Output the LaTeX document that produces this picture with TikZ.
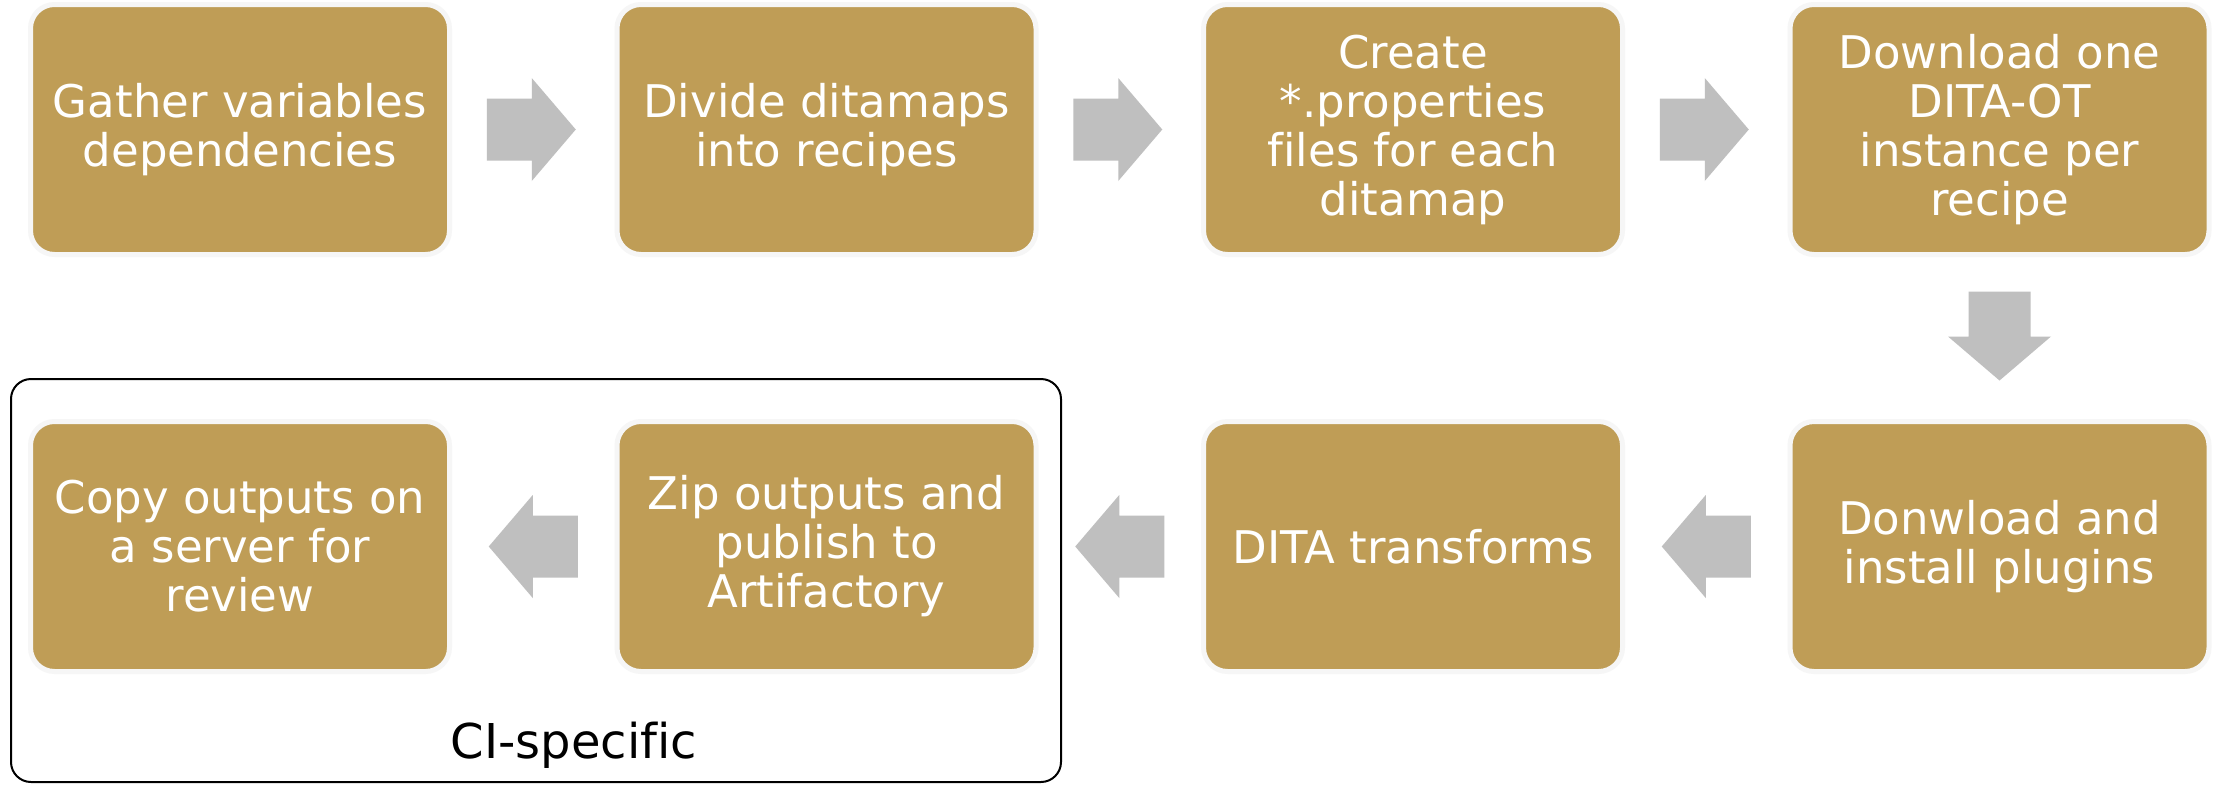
\documentclass[tikz,border=0pt]{standalone}
\usepackage{fontspec}
\setmainfont[Ligatures=NoCommon]{DejaVu Sans}
\usetikzlibrary{calc}
\definecolor{gold}{RGB}{191,157,86}
\definecolor{arrowgray}{RGB}{191,191,191}
\definecolor{rimgray}{RGB}{246,246,246}
\begin{document}
\begin{tikzpicture}[x=1pt,y=1pt,
  stepbox/.style={rectangle, rounded corners=24pt, fill=gold, draw=rimgray, line width=5pt,
    minimum width=419pt, minimum height=250pt, text=white, align=center,
    font=\fontsize{45}{49}\selectfont, inner sep=0pt},
  ciframe/.style={rectangle, draw=black, line width=2pt, rounded corners=20pt,
    minimum width=1050pt, minimum height=403pt, inner sep=0pt},
  blockarrow/.pic={\fill[arrowgray] (-44.5,31) -- (0.5,31) -- (0.5,51.5) -- (44.5,0)
     -- (0.5,-51.5) -- (0.5,-31) -- (-44.5,-31) -- cycle;}]
\useasboundingbox (0,0) rectangle (2218,-785);
\fill[white] (0,0) rectangle (2218,-785);
% CI frame
\node[ciframe] (ci) at (536,-580.5) {};
\node[font=\fontsize{48}{52}\selectfont, text=black] (cilabel) at (574,-745) {CI-specific};
% boxes
\node[stepbox] (s1) at (240,-129.5) {Gather variables\\dependencies};
\node[stepbox] (s2) at (826.5,-129.5) {Divide ditamaps\\into recipes};
\node[stepbox] (s3) at (1413,-129.5) {Create\\*.properties\\files for each\\ditamap};
\node[stepbox] (s4) at (1999.5,-129.5) {Download one\\DITA-OT\\instance per\\recipe};
\node[stepbox] (s8) at (1999.5,-546.5) {Donwload and\\install plugins};
\node[stepbox] (s7) at (1413,-546.5) {DITA transforms};
\node[stepbox] (s6) at (826.5,-546.5) {Zip outputs and\\publish to\\Artifactory};
\node[stepbox] (s5) at (240,-546.5) {Copy outputs on\\a server for\\review};
% arrows
\pic at ($(s1.east)!0.5!(s2.west)+(-2,0)$) {blockarrow};
\pic at ($(s2.east)!0.5!(s3.west)+(-2,0)$) {blockarrow};
\pic at ($(s3.east)!0.5!(s4.west)+(-2,0)$) {blockarrow};
\pic[rotate=-90] at ($(s4.south)!0.5!(s8.north)+(0,2)$) {blockarrow};
\pic[rotate=180] at ($(s8.west)!0.5!(s7.east)$) {blockarrow};
\pic[rotate=180] at ($(s7.west)!0.5!(s6.east)$) {blockarrow};
\pic[rotate=180] at ($(s6.west)!0.5!(s5.east)$) {blockarrow};
\end{tikzpicture}
\end{document}
